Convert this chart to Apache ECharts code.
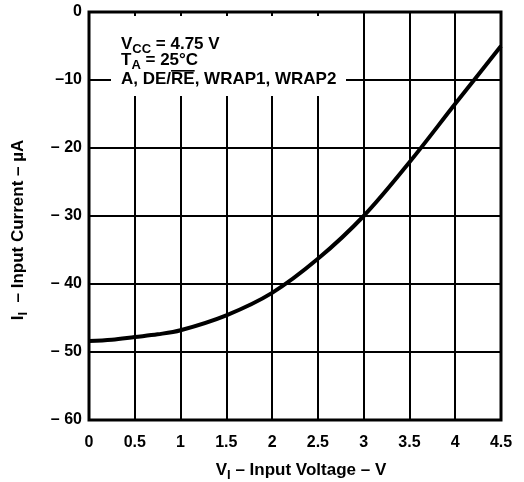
<!DOCTYPE html>
<html>
<head>
<meta charset="utf-8">
<script src="https://cdn.jsdelivr.net/npm/echarts@6/dist/echarts.min.js"></script>
<style>
html,body{margin:0;padding:0;background:#fff;}
#c{width:524px;height:482px;}
</style>
</head>
<body>
<div id="c"></div>
<script>
// Data
var voltage = [0, 0.25, 0.5, 0.75, 1, 1.5, 2, 2.5, 3, 3.5, 4, 4.5];
var current = [-48.4, -48.2, -47.8, -47.4, -46.8, -44.6, -41.3, -36.3, -30, -22.1, -13.5, -5];
var yTickLabels = {'-60':'– 60','-50':'– 50','-40':'– 40','-30':'– 30','-20':'– 20','-10':'–10','0':'0'};
var xTitle = ['V', 'I', ' – Input Voltage – V'];
var yTitle = ['I', 'I', '  – Input Current – µA'];
var noteLine1 = ['V', 'CC', ' = 4.75 V'];
var noteLine2 = ['T', 'A', ' = 25°C'];
var noteLine3pre = 'A, DE/';
var noteLine3over = 'RE';
var noteLine3post = ', WRAP1, WRAP2';

var FONT = '"Liberation Sans", Arial, sans-serif';
var MAIN = 'bold 17px ' + FONT;
var SUB = 'bold 13px ' + FONT;
var chart = echarts.init(document.getElementById('c'), null, {renderer: 'canvas'});

var ctx = document.createElement('canvas').getContext('2d');
function w(t, f) { ctx.font = f; return ctx.measureText(t).width; }

// builds text children: main letter, subscript, rest; starting at x0, top y0
function subParts(parts, x0, y0) {
  var w0 = w(parts[0], MAIN), w1 = w(parts[1], SUB);
  return [
    {type: 'text', z: 30, x: x0, y: y0, style: {text: parts[0], font: MAIN, fill: '#000', verticalAlign: 'top'}},
    {type: 'text', z: 30, x: x0 + w0, y: y0 + 7, style: {text: parts[1], font: SUB, fill: '#000', verticalAlign: 'top'}},
    {type: 'text', z: 30, x: x0 + w0 + w1, y: y0, style: {text: parts[2], font: MAIN, fill: '#000', verticalAlign: 'top'}}
  ];
}
function partsWidth(parts) { return w(parts[0], MAIN) + w(parts[1], SUB) + w(parts[2], MAIN); }

var data = voltage.map(function (v, i) { return [v, current[i]]; });

var noteX = 121;
var preW = w(noteLine3pre, MAIN), overW = w(noteLine3over, MAIN);
var xw = partsWidth(xTitle), yw = partsWidth(yTitle);

var noteChildren = [
  {type: 'rect', z: 20, shape: {x: 111, y: 16, width: 235, height: 80}, style: {fill: '#fff'}}
].concat(subParts(noteLine1, noteX, 36), subParts(noteLine2, noteX, 52), [
  {type: 'text', z: 30, x: noteX, y: 71,
    style: {text: noteLine3pre + noteLine3over + noteLine3post, font: MAIN, fill: '#000', verticalAlign: 'top'}},
  {type: 'rect', z: 30, shape: {x: noteX + preW, y: 70, width: overW, height: 1.6}, style: {fill: '#000'}}
]);

chart.setOption({
  animation: false,
  grid: {left: 89, right: 23, top: 12, bottom: 62, show: true, borderColor: '#000', borderWidth: 3, backgroundColor: 'transparent'},
  xAxis: {
    type: 'value', min: 0, max: 4.5, interval: 0.5,
    axisLine: {show: false},
    axisTick: {show: false},
    splitLine: {show: true, lineStyle: {color: '#000', width: 2}},
    axisLabel: {color: '#000', fontFamily: FONT, fontWeight: 'bold', fontSize: 16, margin: 15, showMinLabel: true, showMaxLabel: true}
  },
  yAxis: {
    type: 'value', min: -60, max: 0, interval: 10,
    axisLine: {show: false},
    axisTick: {show: false},
    splitLine: {show: true, lineStyle: {color: '#000', width: 2}},
    axisLabel: {color: '#000', fontFamily: FONT, fontWeight: 'bold', fontSize: 16, margin: 7,
      formatter: function (v) { return yTickLabels[String(v)] || String(v); }}
  },
  series: [{
    type: 'line', data: data, smooth: 0.35, symbol: 'none',
    lineStyle: {color: '#000', width: 4}, z: 5
  }],
  graphic: [
    {type: 'group', x: 19, y: 230, rotation: Math.PI / 2,
      children: subParts(yTitle, -yw / 2, -9)},
    {type: 'group', x: 301, y: 471,
      children: subParts(xTitle, -xw / 2, -9)},
    {type: 'group', x: 0, y: 0, children: noteChildren}
  ]
});
</script>
</body>
</html>
